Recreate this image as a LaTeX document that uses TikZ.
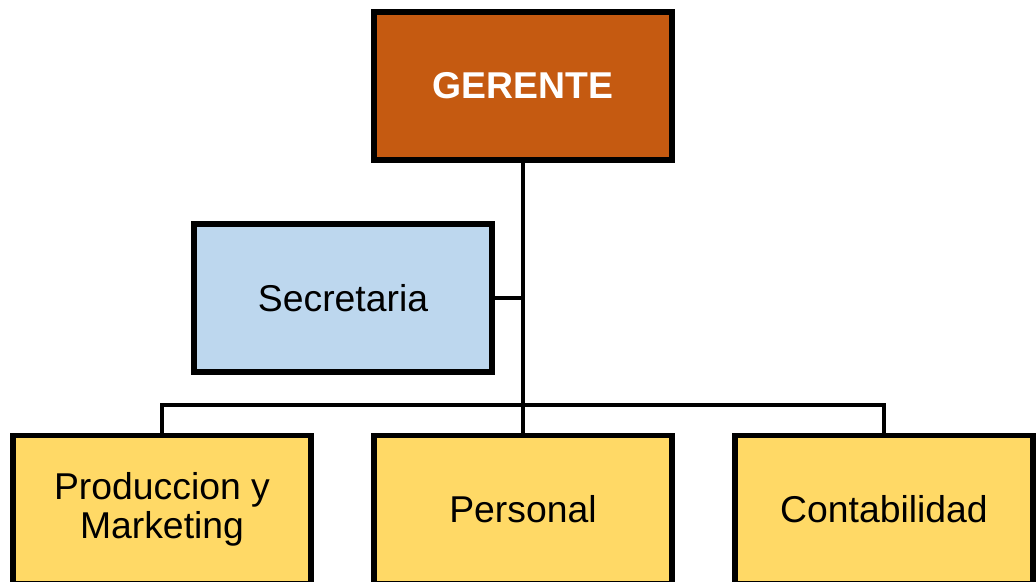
\documentclass[tikz,border=0pt]{standalone}
\usepackage{fontspec}
\setmainfont{Liberation Sans}
\usetikzlibrary{positioning}
\definecolor{gerorange}{HTML}{C55A11}
\definecolor{secblue}{HTML}{BDD7EE}
\definecolor{depyellow}{HTML}{FFD966}

\begin{document}
\begin{tikzpicture}[
    x=0.75pt, y=-0.75pt,
    unit/.style={draw=black, line width=4pt, fill=#1, minimum width=223.5pt,
      minimum height=111pt, align=center, font=\fontsize{28}{29}\selectfont},
    link/.style={line width=3.5pt, color=black},
]
\useasboundingbox (0,0) rectangle (1036,582);

% Top level
\node[unit=gerorange, text=white, font=\fontsize{28}{29}\selectfont\bfseries] (ger) at (523,86) {GERENTE};

% Staff
\node[unit=secblue] (sec) at (343,298) {Secretaria};

% Departments
\node[unit=depyellow] (prod) at (162,509.5) {Produccion y\\Marketing};
\node[unit=depyellow] (pers) at (523,509.5) {Personal};
\node[unit=depyellow] (cont) at (884,509.5) {Contabilidad};

% Connectors
\coordinate (bus) at (523,405);
\draw[link] (ger.south) -- (pers.north);
\draw[link] (sec.east) -- (sec.east -| ger.south);
\draw[link] (prod.north) |- (bus) -| (cont.north);

\end{tikzpicture}
\end{document}
